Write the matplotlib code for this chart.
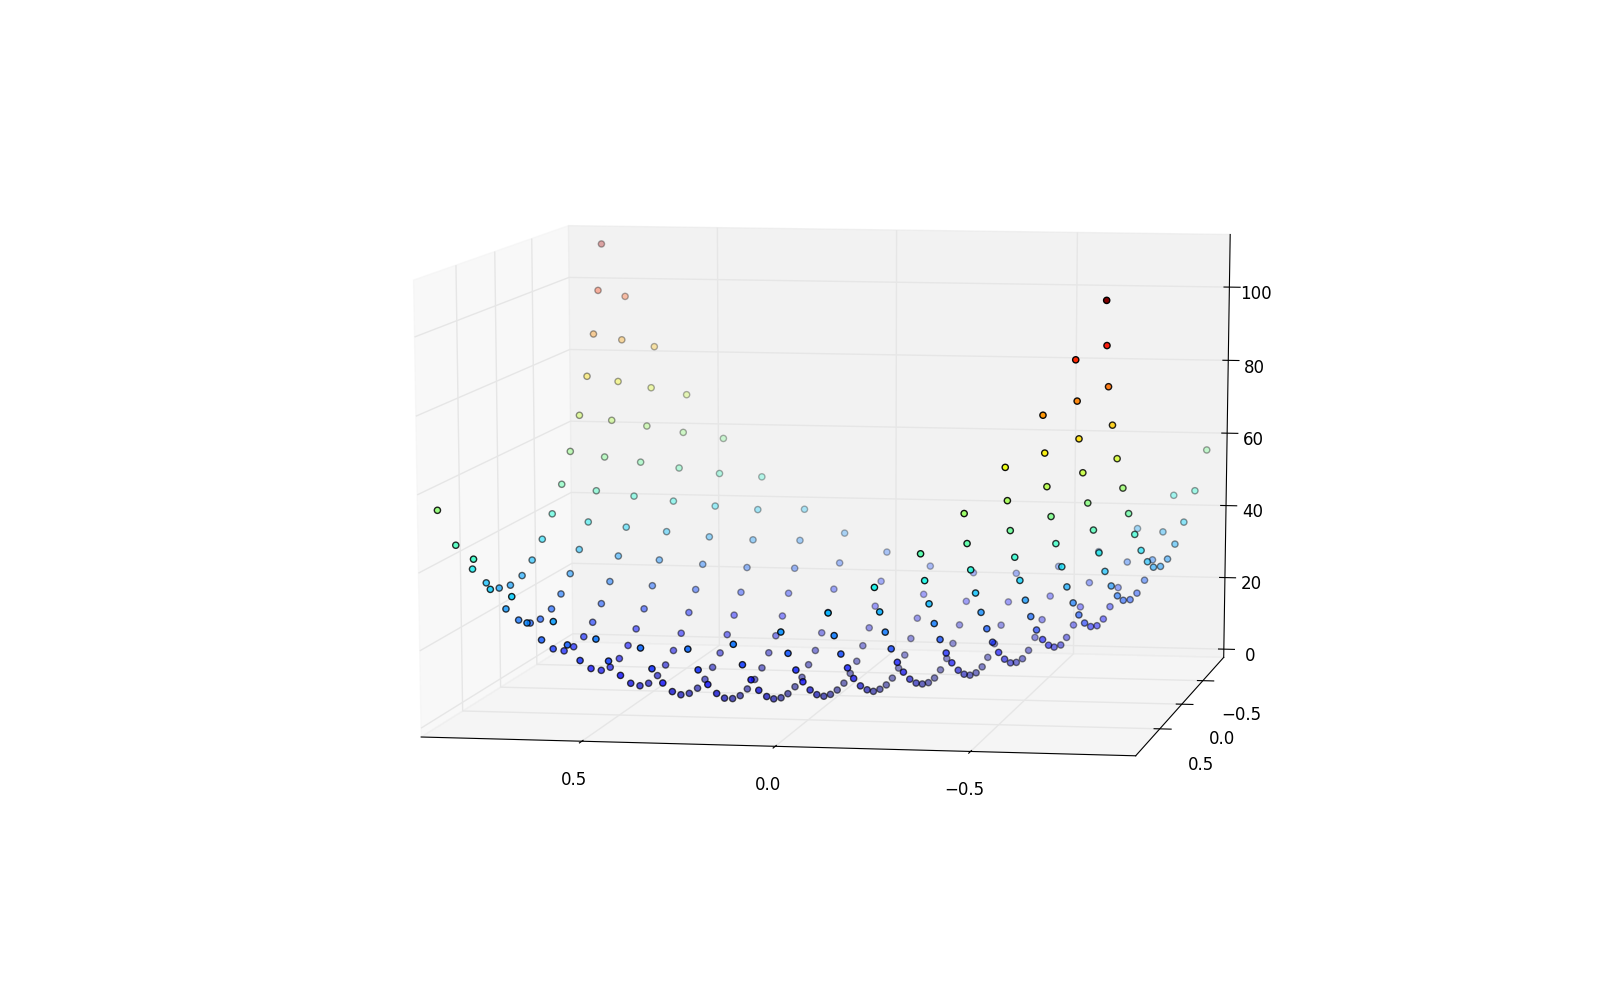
import numpy as np
import matplotlib
matplotlib.use("Agg")
import matplotlib.pyplot as plt

y_values = [-1.17, -1.024, -0.878, -0.731, -0.585, -0.439, -0.293, -0.146, 0.0, 0.146, 0.293, 0.439, 0.585, 0.731, 0.878, 1.024, 1.17]

# the grid lines bend in plan, so x is read per point; one row per y value
x_rows = [
    [-0.828, -0.738, -0.638, -0.530, -0.418, -0.299, -0.178, -0.056, 0.067, 0.187, 0.301, 0.422, 0.531, 0.635, 0.726, 0.808, 0.874],
    [-0.813, -0.726, -0.628, -0.523, -0.414, -0.297, -0.179, -0.059, 0.061, 0.178, 0.290, 0.409, 0.517, 0.619, 0.709, 0.791, 0.857],
    [-0.800, -0.715, -0.621, -0.517, -0.411, -0.297, -0.181, -0.063, 0.055, 0.171, 0.281, 0.398, 0.504, 0.605, 0.695, 0.775, 0.843],
    [-0.793, -0.711, -0.617, -0.517, -0.411, -0.299, -0.184, -0.067, 0.049, 0.164, 0.274, 0.390, 0.495, 0.595, 0.686, 0.766, 0.834],
    [-0.790, -0.708, -0.617, -0.517, -0.413, -0.301, -0.188, -0.072, 0.044, 0.158, 0.267, 0.382, 0.488, 0.588, 0.678, 0.759, 0.828],
    [-0.788, -0.707, -0.618, -0.520, -0.416, -0.306, -0.192, -0.077, 0.038, 0.152, 0.261, 0.376, 0.482, 0.582, 0.673, 0.755, 0.826],
    [-0.786, -0.706, -0.619, -0.521, -0.419, -0.310, -0.197, -0.082, 0.033, 0.147, 0.256, 0.370, 0.475, 0.575, 0.668, 0.750, 0.822],
    [-0.787, -0.708, -0.621, -0.525, -0.423, -0.314, -0.202, -0.088, 0.027, 0.141, 0.250, 0.364, 0.470, 0.571, 0.664, 0.747, 0.820],
    [-0.787, -0.709, -0.624, -0.528, -0.427, -0.319, -0.207, -0.093, 0.022, 0.136, 0.245, 0.359, 0.465, 0.566, 0.660, 0.744, 0.819],
    [-0.787, -0.710, -0.627, -0.531, -0.431, -0.324, -0.212, -0.098, 0.017, 0.131, 0.240, 0.354, 0.460, 0.561, 0.656, 0.741, 0.818],
    [-0.788, -0.712, -0.629, -0.535, -0.435, -0.328, -0.217, -0.104, 0.011, 0.125, 0.234, 0.348, 0.455, 0.557, 0.652, 0.738, 0.816],
    [-0.790, -0.715, -0.634, -0.540, -0.440, -0.334, -0.222, -0.109, 0.006, 0.120, 0.229, 0.344, 0.452, 0.554, 0.651, 0.739, 0.818],
    [-0.792, -0.718, -0.637, -0.545, -0.445, -0.339, -0.228, -0.114, 0.000, 0.114, 0.225, 0.340, 0.448, 0.550, 0.648, 0.737, 0.818],
    [-0.797, -0.723, -0.643, -0.551, -0.451, -0.345, -0.234, -0.121, -0.005, 0.110, 0.220, 0.336, 0.445, 0.549, 0.648, 0.738, 0.822],
    [-0.804, -0.731, -0.651, -0.559, -0.459, -0.353, -0.241, -0.127, -0.011, 0.105, 0.217, 0.334, 0.444, 0.549, 0.649, 0.741, 0.827],
    [-0.817, -0.744, -0.664, -0.571, -0.470, -0.363, -0.249, -0.133, -0.015, 0.102, 0.216, 0.335, 0.447, 0.553, 0.657, 0.751, 0.839],
    [-0.833, -0.758, -0.678, -0.585, -0.483, -0.374, -0.258, -0.141, -0.021, 0.100, 0.216, 0.337, 0.451, 0.560, 0.666, 0.763, 0.854],
]
x_correction = -0.019

# heights; one row per y value, same column order as x_rows
z_rows = [
    [54.8, 42.0, 32.5, 25.8, 21.4, 19.2, 19.1, 20.7, 24.4, 29.5, 36.0, 44.9, 55.5, 67.6, 80.9, 94.8, 109.3],
    [44.9, 33.3, 24.7, 18.7, 14.7, 12.8, 12.7, 14.4, 17.8, 22.7, 28.8, 37.2, 47.1, 58.4, 70.7, 83.9, 97.5],
    [37.7, 27.1, 19.2, 13.6, 9.8, 8.0, 7.8, 9.4, 12.5, 17.0, 22.6, 30.3, 39.5, 49.9, 61.4, 73.6, 86.6],
    [33.2, 23.1, 15.6, 10.3, 6.6, 4.6, 4.4, 5.5, 8.2, 12.2, 17.3, 24.2, 32.5, 42.2, 52.8, 64.2, 76.2],
    [30.7, 21.2, 13.9, 8.6, 4.8, 2.6, 2.0, 2.7, 5.0, 8.3, 12.7, 19.0, 26.5, 35.3, 44.9, 55.5, 66.8],
    [30.3, 21.1, 13.8, 8.3, 4.3, 1.8, 0.7, 0.9, 2.5, 5.2, 9.0, 14.4, 21.2, 29.1, 37.9, 47.7, 58.3],
    [31.7, 22.6, 15.3, 9.5, 5.1, 2.0, 0.3, 0.0, 1.0, 3.1, 6.1, 10.8, 16.6, 23.7, 31.6, 40.7, 50.8],
    [34.8, 25.5, 18.0, 11.8, 6.8, 3.2, 0.9, 0.0, 0.2, 1.5, 3.8, 7.6, 12.7, 19.1, 26.3, 34.8, 44.3],
    [39.4, 29.8, 21.9, 15.1, 9.6, 5.3, 2.4, 0.7, 0.2, 0.8, 2.5, 5.5, 9.8, 15.4, 22.0, 29.9, 39.0],
    [45.2, 35.3, 26.8, 19.4, 13.2, 8.2, 4.5, 2.0, 0.9, 0.8, 1.8, 4.1, 7.7, 12.7, 18.7, 26.1, 35.0],
    [52.2, 41.8, 32.7, 24.7, 17.7, 12.0, 7.4, 4.3, 2.3, 1.6, 1.9, 3.6, 6.7, 11.0, 16.6, 23.8, 32.5],
    [60.3, 49.3, 39.6, 30.7, 23.0, 16.4, 11.1, 7.2, 4.6, 3.2, 3.0, 4.1, 6.5, 10.5, 15.7, 22.8, 31.6],
    [69.3, 57.8, 47.2, 37.5, 29.0, 21.7, 15.5, 11.0, 7.7, 5.7, 5.0, 5.6, 7.7, 11.5, 16.4, 23.5, 32.5],
    [79.2, 67.0, 55.7, 45.1, 35.7, 27.6, 20.8, 15.6, 11.7, 9.2, 8.1, 8.3, 10.2, 13.8, 18.7, 26.0, 35.5],
    [90.2, 77.0, 64.8, 53.5, 43.3, 34.4, 26.9, 21.0, 16.6, 13.8, 12.3, 12.4, 14.1, 17.7, 22.8, 30.6, 40.7],
    [101.7, 87.8, 74.7, 62.6, 51.6, 42.0, 33.8, 27.5, 22.7, 19.5, 17.9, 17.9, 19.6, 23.5, 28.9, 37.3, 48.4],
    [114.0, 99.3, 85.5, 72.4, 60.7, 50.4, 41.7, 35.0, 29.9, 26.5, 25.0, 25.0, 27.0, 31.2, 37.3, 46.6, 58.8],
]
z_correction = -1.0
x_ticks = [-0.5, 0.0, 0.5]
y_ticks = [-0.5, 0.0, 0.5]
z_ticks = [0, 20, 40, 60, 80, 100]

X = np.array(x_rows) + x_correction
Y = np.repeat(np.array(y_values)[:, None], X.shape[1], axis=1)
Z = np.array(z_rows) + z_correction

fig = plt.figure(figsize=(16.03, 9.82), dpi=100)
ax = fig.add_axes([0.1096, 0.082, 0.805, 0.84], projection="3d")
ax.apply_aspect = lambda position=None: None
ax.set_box_aspect((1, 1, 1), zoom=1 / 1.1)
ax.view_init(elev=10, azim=100)

ax.scatter(X.ravel(), Y.ravel(), Z.ravel(), c=Z.ravel(), cmap="jet",
           s=20, edgecolors="k", linewidths=1.0)

ax.set_xlim(-0.919, 0.919)
ax.set_ylim(-1.02, 1.02)
ax.set_zlim(-2.3, 114.3)
ax.set_xticks(x_ticks)
ax.set_yticks(y_ticks)
ax.set_zticks(z_ticks)
ax.tick_params(labelsize=12)
ax.xaxis.set_tick_params(pad=13)
ax.yaxis.set_tick_params(pad=15)
ax.zaxis.set_tick_params(pad=6)
for axis in (ax.xaxis, ax.yaxis, ax.zaxis):
    axis._axinfo["grid"].update(color=(0.9, 0.9, 0.9, 1), linewidth=1.0)

fig.savefig("out.png", dpi=100)
